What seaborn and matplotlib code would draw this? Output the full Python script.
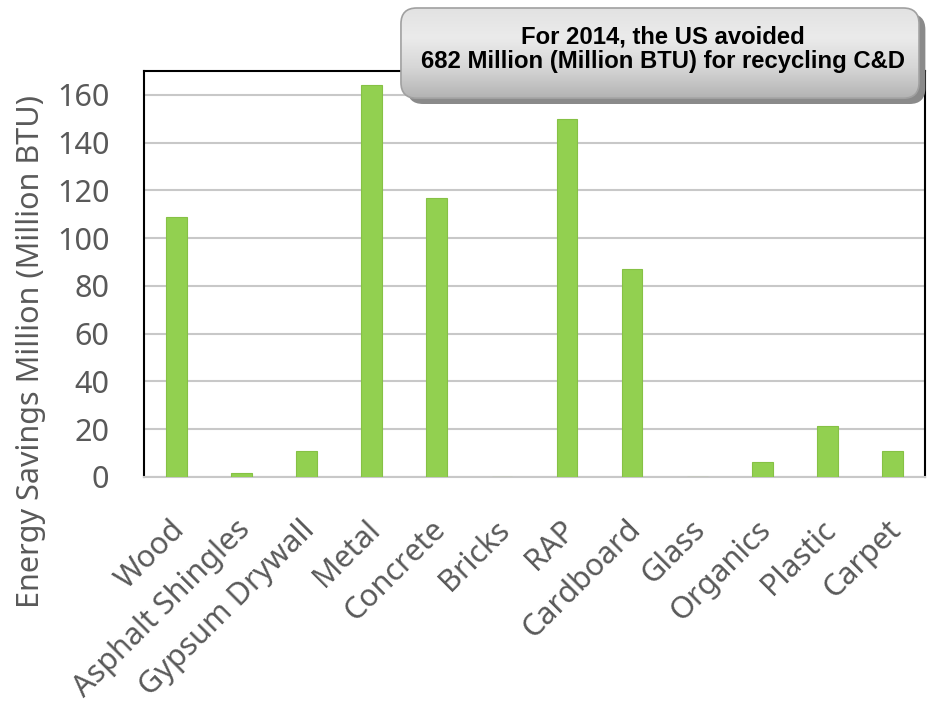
import numpy as np
import pandas as pd
import matplotlib.pyplot as plt
import seaborn as sns
from matplotlib.patches import FancyBboxPatch
from matplotlib.colors import LinearSegmentedColormap
from matplotlib.transforms import ScaledTranslation

sns.set_style('white')
plt.rcParams['font.family'] = ['Noto Sans', 'DejaVu Sans']

# data
materials = ['Wood', 'Asphalt Shingles', 'Gypsum Drywall', 'Metal', 'Concrete', 'Bricks',
             'RAP', 'Cardboard', 'Glass', 'Organics', 'Plastic', 'Carpet']
savings = [109, 1.5, 11, 164, 117, 0, 150, 87, 0, 6.3, 21.5, 11]
y_ticks = [0, 20, 40, 60, 80, 100, 120, 140, 160]

df = pd.DataFrame({'material': materials, 'savings': savings})

fig = plt.figure(figsize=(9.39, 7.06), dpi=100)
ax = fig.add_axes([0.1534, 0.3244, 0.8316, 0.575])

sns.barplot(data=df, x='material', y='savings', color='#92d050', width=0.32,
            edgecolor='#86c145', linewidth=0.8, saturation=1, ax=ax, zorder=3)

ax.set_ylim(0, 170)
ax.set_yticks(y_ticks)
ax.set_xlim(-0.5, len(materials) - 0.5)
ax.yaxis.grid(True, color='#c8c8c8', linewidth=1.5, zorder=0)
ax.set_axisbelow(True)
for s in ['left', 'top', 'right']:
    ax.spines[s].set_color('black')
    ax.spines[s].set_linewidth(1.5)
ax.spines['bottom'].set_color('#c8c8c8')
ax.spines['bottom'].set_linewidth(1.5)

ax.tick_params(axis='y', labelsize=22, labelcolor='#595959', length=0, pad=25)
ax.tick_params(axis='x', labelsize=22, labelcolor='#595959', length=0, pad=27)
ax.set_xticks(range(len(materials)))
ax.set_xticklabels(materials, rotation=45, ha='right', rotation_mode='anchor')
shift = ScaledTranslation(-5 / 72, 0, fig.dpi_scale_trans)
for lbl in ax.get_xticklabels():
    lbl.set_transform(lbl.get_transform() + shift)
ax.set_xlabel('')
ax.set_ylabel('Energy Savings Million (Million BTU)', fontsize=22, color='#595959')
ax.yaxis.set_label_coords(-0.126, 0.31)

# callout box with gradient + shadow
bx = fig.add_axes([0.427, 1 - 104 / 706, 526 / 939, 96 / 706])
bx.set_xlim(0, 1)
bx.set_ylim(0, 1)
bx.axis('off')
shadow = FancyBboxPatch((0.012, 0.0), 0.985, 0.94, boxstyle='round,pad=0,rounding_size=0.03',
                        mutation_aspect=5.5, facecolor='#8a8a8a', edgecolor='none',
                        transform=bx.transAxes, clip_on=False, zorder=1)
bx.add_patch(shadow)
box = FancyBboxPatch((0.0, 0.06), 0.985, 0.94, boxstyle='round,pad=0,rounding_size=0.03',
                     mutation_aspect=5.5, facecolor='none', edgecolor='#a0a0a0', linewidth=1.2,
                     transform=bx.transAxes, clip_on=False, zorder=3)
gray_cmap = LinearSegmentedColormap.from_list('g', ['#b3b3b3', '#d6d6d6', '#ebebeb', '#e2e2e2'])
grad = np.linspace(0, 1, 256).reshape(-1, 1)
im = bx.imshow(grad, extent=[0, 0.985, 0.06, 1], aspect='auto', cmap=gray_cmap,
               origin='lower', zorder=2)
bx.add_patch(box)
im.set_clip_path(box)
bx.text(0.498, 0.7, 'For 2014, the US avoided', ha='center', va='center', zorder=4,
        fontsize=17.2, fontweight='bold', family='Liberation Sans', color='black')
bx.text(0.498, 0.44, '682 Million (Million BTU) for recycling C&D', ha='center', va='center',
        zorder=4, fontsize=17.2, fontweight='bold', family='Liberation Sans', color='black')

plt.savefig('out.png', dpi=100)
